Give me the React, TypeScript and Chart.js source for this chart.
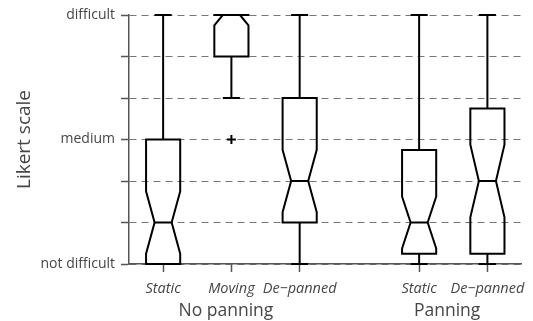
import { useEffect, useRef } from 'react';
import { Chart, registerables } from 'chart.js';

Chart.register(...registerables);

// ---- data ----
const categories = ['Static', 'Moving', 'De\u2212panned', 'Static', 'De\u2212panned'];
const positions = [1, 2, 3, 4.75, 5.75];
const groups = ['No panning', 'Panning'];
const groupPositions = [1.92, 5.16];
const whiskerLow = [0, 4, 0, 0, 0];
const q1 = [0, 5, 1, 0.25, 0.25];
const median = [1, 6, 2, 1, 2];
const q3 = [3, 6, 4, 2.75, 3.75];
const whiskerHigh = [6, 6, 6, 6, 6];
const notchLow = [0.25, 5.75, 1.25, 0.375, 1.125];
const notchHigh = [1.75, 6.25, 2.75, 1.625, 2.875];
const outlierX = [2];
const outlierY = [3];
const yTickValues = [0, 1, 2, 3, 4, 5, 6];
const yTickLabels: Record<number, string> = { 0: 'not difficult', 3: 'medium', 6: 'difficult' };

const FONT = "'Open Sans', 'DejaVu Sans', sans-serif";
const TEXT = '#464646';
const AXIS = '#555555';

const boxPlugin = {
  id: 'notchedBoxes',
  afterDatasetsDraw(chart: any) {
    const { ctx, chartArea } = chart;
    const xs = chart.scales.x;
    const ys = chart.scales.y;
    const Y = (v: number) => ys.getPixelForValue(v);
    const X = (v: number) => xs.getPixelForValue(v);
    ctx.save();
    ctx.beginPath();
    ctx.rect(chartArea.left, chartArea.top - 1, chartArea.right - chartArea.left, chartArea.bottom - chartArea.top + 2);
    ctx.clip();
    ctx.strokeStyle = '#000000';
    ctx.lineWidth = 2;
    ctx.lineJoin = 'miter';
    ctx.lineCap = 'butt';
    positions.forEach((p, i) => {
      const xl = X(p - 0.25);
      const xr = X(p + 0.25);
      const nl = X(p - 0.125);
      const nr = X(p + 0.125);
      const xc = X(p);
      // notched box
      ctx.beginPath();
      ctx.moveTo(xl, Y(q1[i]));
      ctx.lineTo(xl, Y(notchLow[i]));
      ctx.lineTo(nl, Y(median[i]));
      ctx.lineTo(xl, Y(notchHigh[i]));
      ctx.lineTo(xl, Y(q3[i]));
      ctx.lineTo(xr, Y(q3[i]));
      ctx.lineTo(xr, Y(notchHigh[i]));
      ctx.lineTo(nr, Y(median[i]));
      ctx.lineTo(xr, Y(notchLow[i]));
      ctx.lineTo(xr, Y(q1[i]));
      ctx.closePath();
      ctx.stroke();
      // median
      ctx.beginPath();
      ctx.moveTo(nl, Y(median[i]));
      ctx.lineTo(nr, Y(median[i]));
      ctx.stroke();
      // whiskers
      ctx.beginPath();
      ctx.moveTo(xc, Y(q3[i]));
      ctx.lineTo(xc, Y(whiskerHigh[i]));
      ctx.moveTo(nl, Y(whiskerHigh[i]));
      ctx.lineTo(nr, Y(whiskerHigh[i]));
      ctx.moveTo(xc, Y(q1[i]));
      ctx.lineTo(xc, Y(whiskerLow[i]));
      ctx.moveTo(nl, Y(whiskerLow[i]));
      ctx.lineTo(nr, Y(whiskerLow[i]));
      ctx.stroke();
    });
    ctx.restore();
  },
};

export default function App() {
  const ref = useRef<HTMLCanvasElement | null>(null);
  useEffect(() => {
    if (!ref.current) return;
    const chart = new Chart(ref.current, {
      type: 'scatter',
      data: {
        datasets: [
          {
            data: outlierX.map((x, i) => ({ x, y: outlierY[i] })),
            pointStyle: 'cross',
            radius: 4.5,
            borderColor: '#000000',
            borderWidth: 2,
            backgroundColor: '#000000',
          },
        ],
      },
      options: {
        responsive: false,
        animation: false,
        layout: { padding: { left: 0, right: 8, top: 15, bottom: 0 } },
        plugins: { legend: { display: false }, tooltip: { enabled: false } },
        scales: {
          x: {
            type: 'linear',
            position: 'bottom',
            weight: 0,
            min: 0.5,
            max: 6.25,
            afterBuildTicks: (s: any) => {
              s.ticks = positions.map((v) => ({ value: v }));
            },
            afterFit: (s: any) => {
              s.height = 34;
            },
            ticks: {
              autoSkip: false,
              maxRotation: 0,
              padding: 8,
              color: TEXT,
              font: { family: FONT, size: 14.5, style: 'italic' },
              callback: (v: any) => {
                const i = positions.indexOf(Number(v));
                return i >= 0 ? categories[i] : '';
              },
            },
            grid: {
              drawOnChartArea: false,
              drawTicks: true,
              tickLength: 8,
              tickColor: AXIS,
              tickWidth: 1.5,
              color: AXIS,
            },
            border: { color: AXIS, width: 1.5 },
          },
          x2: {
            type: 'linear',
            position: 'bottom',
            weight: 1,
            min: 0.5,
            max: 6.25,
            afterBuildTicks: (s: any) => {
              s.ticks = groupPositions.map((v) => ({ value: v }));
            },
            afterFit: (s: any) => {
              s.height = 23;
            },
            ticks: {
              autoSkip: false,
              maxRotation: 0,
              padding: -5,
              color: TEXT,
              font: { family: FONT, size: 17.5 },
              callback: (v: any) => {
                const i = groupPositions.indexOf(Number(v));
                return i >= 0 ? groups[i] : '';
              },
            },
            grid: { display: false },
            border: { display: false },
          },
          y: {
            type: 'linear',
            min: 0,
            max: 6,
            afterBuildTicks: (s: any) => {
              s.ticks = yTickValues.map((v) => ({ value: v }));
            },
            afterFit: (s: any) => {
              s.width = 129;
            },
            ticks: {
              autoSkip: false,
              padding: 6,
              color: TEXT,
              font: { family: FONT, size: 14 },
              callback: (v: any) => yTickLabels[Number(v)] ?? '',
            },
            grid: {
              color: '#777777',
              lineWidth: 1,
              tickLength: 8,
              tickColor: AXIS,
              tickWidth: 1.5,
            },
            border: { color: AXIS, width: 1.5, dash: [7, 5] },
            title: {
              display: true,
              text: 'Likert scale',
              color: TEXT,
              font: { family: FONT, size: 19 },
              padding: { top: 13, bottom: 0 },
            },
          },
        },
      },
      plugins: [boxPlugin],
    } as any);
    return () => chart.destroy();
  }, []);
  return (
    <div style={{ position: 'fixed', left: 0, top: 0, width: 533, height: 321, background: '#ffffff' }}>
      <canvas ref={ref} width={533} height={321} style={{ display: 'block', width: 533, height: 321 }} />
    </div>
  );
}
